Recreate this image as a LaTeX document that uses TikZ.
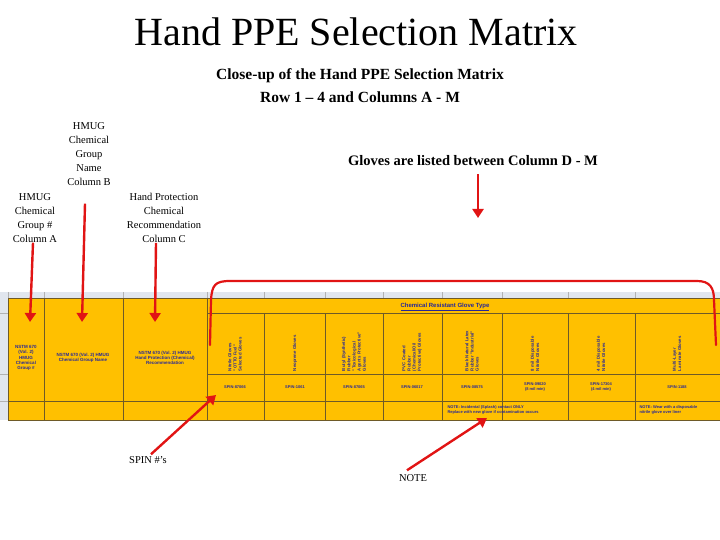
\documentclass[tikz,border=0pt]{standalone}
\usepackage{fontspec}
\setmainfont{Liberation Serif}
\newfontfamily\arial{Liberation Sans}
\usetikzlibrary{arrows.meta}
\definecolor{cell}{RGB}{255,192,0}
\definecolor{gridc}{RGB}{110,90,40}
\definecolor{hdrgray}{RGB}{225,230,238}
\definecolor{ink}{RGB}{40,40,150}
\definecolor{arr}{RGB}{225,20,20}
\tikzset{
 lbl/.style={align=center,font=\fontsize{11}{14}\selectfont,inner sep=0pt},
 redarrow/.style={arr,line width=2.4pt,-{Triangle[length=9pt,width=11pt]}},
 hdr/.style={rotate=90,font=\arial\fontsize{4.3}{5.2}\selectfont\bfseries,text=ink,align=left,anchor=center,text width=54pt},
 sp/.style={font=\arial\fontsize{4}{4.6}\selectfont\bfseries,text=ink,align=center},
 ct/.style={font=\arial\fontsize{4.5}{5.2}\selectfont\bfseries,text=ink,align=center},
 grid/.style={gridc,line width=0.4pt}
}
\begin{document}
\begin{tikzpicture}[x=1pt,y=-1pt]
\useasboundingbox (0,0) rectangle (720,540);
\node[font=\fontsize{40}{44}\selectfont] (title) at (356,32) {Hand PPE Selection Matrix};
\node[lbl,font=\fontsize{15.5}{23}\selectfont\bfseries] (sub) at (360,86) {Close-up of the Hand PPE Selection Matrix\\Row 1 -- 4 and Columns A - M};
\node[lbl,font=\fontsize{10.5}{14}\selectfont] (lb) at (89,154) {HMUG\\Chemical\\Group\\Name\\Column B};
\node[lbl,font=\fontsize{10.5}{14}\selectfont] (la) at (35,218) {HMUG\\Chemical\\Group \#\\Column A};
\node[lbl,font=\fontsize{10.5}{14}\selectfont] (lc) at (164,218) {Hand Protection\\Chemical\\Recommendation\\Column C};
\node[lbl,font=\fontsize{14.5}{17}\selectfont\bfseries] (lg) at (473,161) {Gloves are listed between Column D - M};
\node[lbl,font=\fontsize{10.5}{14}\selectfont] (ls) at (148,460) {SPIN \#'s};
\node[lbl,font=\fontsize{10.5}{14}\selectfont] (ln) at (413,478) {NOTE};
% spreadsheet
\fill[hdrgray] (0,292) rectangle (720,298);
\fill[hdrgray] (0,298) rectangle (8,420);
\fill[cell] (8,298) rectangle (720,420);
\foreach \x in {8,44,123,207,264,325,383,442,502,568,635} {\draw[gray!60,line width=0.3pt] (\x,292) -- (\x,298);}
\foreach \y in {313,374,401} {\draw[gray!60,line width=0.3pt] (0,\y) -- (8,\y);}
\draw[grid] (8,298) rectangle (720,420);
\foreach \x in {44,123,207} {\draw[grid] (\x,298) -- (\x,420);}
\foreach \x in {264,325,383,442,502,568,635} {\draw[grid] (\x,313) -- (\x,420);}
\draw[grid] (207,313) -- (720,313);
\draw[grid] (207,374) -- (720,374);
\draw[grid] (8,401) -- (720,401);
\node[ct] (ca) at (26,358) {NSTM 670\\(Vol. 2)\\HMUG\\Chemical\\Group \#};
\node[ct] (cb) at (83,358) {NSTM 670 (Vol. 2)  HMUG\\Chemical Group Name};
\node[ct] (cc) at (165,358) {NSTM 670 (Vol. 2) HMUG\\Hand Protection (Chemical)\\Recommendation};
\node[font=\arial\fontsize{6}{7}\selectfont\bfseries,text=ink] (cr) at (445,307) {\underline{Chemical Resistant Glove Type}};
\node[hdr] (h1) at (235,344) {Nitrile Gloves\\"OTTO Fuel"\\Selected Gloves};
\node[hdr] (h2) at (295,344) {Neoprene Gloves};
\node[hdr] (h3) at (354,344) {Butyl (Synthetic)\\Rubber\\"Toxicological\\Agents Protective"\\Gloves};
\node[hdr] (h4) at (412,344) {PVC Coated\\Rubber\\(Chemical/Oil\\Protective) Gloves};
\node[hdr] (h5) at (472,344) {Black Natural Latex\\Rubber "Industrial"\\Gloves};
\node[hdr] (h6) at (535,344) {8 mil Disposable\\Nitrile Gloves};
\node[hdr] (h7) at (601,344) {4 mil Disposable\\Nitrile Gloves};
\node[hdr] (h8) at (677,344) {Multi-Layer\\Laminate Gloves};
\node[sp] (s1) at (235,387) {SPIN-87066};
\node[sp] (s2) at (295,387) {SPIN-1061};
\node[sp] (s3) at (354,387) {SPIN-87065};
\node[sp] (s4) at (412,387) {SPIN-06017};
\node[sp] (s5) at (472,387) {SPIN-08575};
\node[sp] (s6) at (535,387) {SPIN-09020\\(8 mil min)};
\node[sp] (s7) at (601,387) {SPIN-17304\\(4 mil min)};
\node[sp] (s8) at (677,387) {SPIN-1188};
\node[sp,align=left,anchor=west] (n1) at (444,410) {NOTE: Incidental (Splash) contact ONLY\\Replace with new glove if contamination occurs};
\node[sp,align=left,anchor=west] (n2) at (636,410) {NOTE: Wear with a disposable\\nitrile glove over liner};
% arrows
\coordinate (ta) at (30,322); \coordinate (tb) at (82,322); \coordinate (tc) at (155,322);
\coordinate (tg) at (478,218); \coordinate (ts) at (216,395); \coordinate (tn) at (487,418);
\draw[redarrow] (la.south) ++(-2,0) -- (ta);
\draw[redarrow] (lb.south) ++(-4,18) -- (tb);
\draw[redarrow] (lc.south) ++(-8,0) -- (tc);
\draw[redarrow] (lg.south) ++(5,8) -- (tg);
\draw[redarrow] (ls.north) ++(3,-2) -- (ts);
\draw[redarrow] (ln.north) ++(-6,-4) -- (tn);
\draw[arr,line width=2.2pt,line cap=round] (210,345) -- (211,300) .. controls (212,285) and (215,281) .. (230,281) -- (697,281) .. controls (710,281) and (714,288) .. (714,300) -- (716,345);
\end{tikzpicture}
\end{document}
